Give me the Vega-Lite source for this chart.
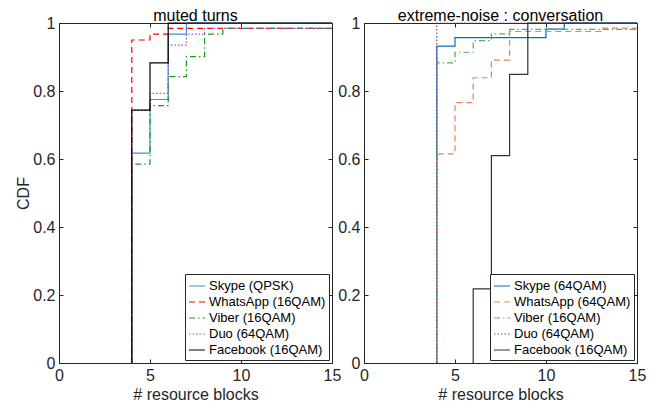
{
  "$schema": "https://vega.github.io/schema/vega-lite/v6.json",
  "padding": {"left": 15, "top": 8, "right": 0, "bottom": 0},
  "autosize": {"type": "pad"},
  "bounds": "flush",
  "spacing": 32,
  "background": "white",
  "datasets": {
    "left": [
      {"s": "Skype (QPSK)", "i": 0, "x": 4, "y": 0},
      {"s": "Skype (QPSK)", "i": 1, "x": 4, "y": 0.617},
      {"s": "Skype (QPSK)", "i": 2, "x": 5, "y": 0.775},
      {"s": "Skype (QPSK)", "i": 3, "x": 6, "y": 0.967},
      {"s": "Skype (QPSK)", "i": 4, "x": 7, "y": 1.0},
      {"s": "Skype (QPSK)", "i": 5, "x": 15, "y": 1.0},
      {"s": "WhatsApp (16QAM)", "i": 0, "x": 4, "y": 0},
      {"s": "WhatsApp (16QAM)", "i": 1, "x": 4, "y": 0.95},
      {"s": "WhatsApp (16QAM)", "i": 2, "x": 5, "y": 0.967},
      {"s": "WhatsApp (16QAM)", "i": 3, "x": 6, "y": 0.984},
      {"s": "WhatsApp (16QAM)", "i": 4, "x": 15, "y": 0.984},
      {"s": "Viber (16QAM)", "i": 0, "x": 4, "y": 0},
      {"s": "Viber (16QAM)", "i": 1, "x": 4, "y": 0.585},
      {"s": "Viber (16QAM)", "i": 2, "x": 5, "y": 0.757},
      {"s": "Viber (16QAM)", "i": 3, "x": 6, "y": 0.842},
      {"s": "Viber (16QAM)", "i": 4, "x": 7, "y": 0.901},
      {"s": "Viber (16QAM)", "i": 5, "x": 8, "y": 0.967},
      {"s": "Viber (16QAM)", "i": 6, "x": 9, "y": 0.984},
      {"s": "Viber (16QAM)", "i": 7, "x": 15, "y": 0.984},
      {"s": "Duo (64QAM)", "i": 0, "x": 4, "y": 0},
      {"s": "Duo (64QAM)", "i": 1, "x": 4, "y": 0.744},
      {"s": "Duo (64QAM)", "i": 2, "x": 5, "y": 0.793},
      {"s": "Duo (64QAM)", "i": 3, "x": 6, "y": 0.935},
      {"s": "Duo (64QAM)", "i": 4, "x": 7, "y": 0.967},
      {"s": "Duo (64QAM)", "i": 5, "x": 8, "y": 0.984},
      {"s": "Duo (64QAM)", "i": 6, "x": 15, "y": 0.984},
      {"s": "Facebook (16QAM)", "i": 0, "x": 4, "y": 0},
      {"s": "Facebook (16QAM)", "i": 1, "x": 4, "y": 0.744},
      {"s": "Facebook (16QAM)", "i": 2, "x": 5, "y": 0.883},
      {"s": "Facebook (16QAM)", "i": 3, "x": 6, "y": 1.0},
      {"s": "Facebook (16QAM)", "i": 4, "x": 15, "y": 1.0}
    ],
    "right": [
      {"s": "Skype (64QAM)", "i": 0, "x": 4, "y": 0},
      {"s": "Skype (64QAM)", "i": 1, "x": 4, "y": 0.932},
      {"s": "Skype (64QAM)", "i": 2, "x": 5, "y": 0.957},
      {"s": "Skype (64QAM)", "i": 3, "x": 10, "y": 0.982},
      {"s": "Skype (64QAM)", "i": 4, "x": 11, "y": 1.0},
      {"s": "Skype (64QAM)", "i": 5, "x": 15, "y": 1.0},
      {"s": "WhatsApp (64QAM)", "i": 0, "x": 4, "y": 0},
      {"s": "WhatsApp (64QAM)", "i": 1, "x": 4, "y": 0.615},
      {"s": "WhatsApp (64QAM)", "i": 2, "x": 5, "y": 0.766},
      {"s": "WhatsApp (64QAM)", "i": 3, "x": 6, "y": 0.839},
      {"s": "WhatsApp (64QAM)", "i": 4, "x": 7, "y": 0.891},
      {"s": "WhatsApp (64QAM)", "i": 5, "x": 8, "y": 0.975},
      {"s": "WhatsApp (64QAM)", "i": 6, "x": 13, "y": 0.985},
      {"s": "WhatsApp (64QAM)", "i": 7, "x": 15, "y": 0.985},
      {"s": "Viber (16QAM)", "i": 0, "x": 4, "y": 0},
      {"s": "Viber (16QAM)", "i": 1, "x": 4, "y": 0.883},
      {"s": "Viber (16QAM)", "i": 2, "x": 5, "y": 0.914},
      {"s": "Viber (16QAM)", "i": 3, "x": 6, "y": 0.948},
      {"s": "Viber (16QAM)", "i": 4, "x": 7, "y": 0.968},
      {"s": "Viber (16QAM)", "i": 5, "x": 8, "y": 0.981},
      {"s": "Viber (16QAM)", "i": 6, "x": 15, "y": 0.981},
      {"s": "Duo (64QAM)", "i": 0, "x": 4, "y": 0},
      {"s": "Duo (64QAM)", "i": 1, "x": 4, "y": 1.0},
      {"s": "Duo (64QAM)", "i": 2, "x": 15, "y": 1.0},
      {"s": "Facebook (16QAM)", "i": 0, "x": 6, "y": 0},
      {"s": "Facebook (16QAM)", "i": 1, "x": 6, "y": 0.218},
      {"s": "Facebook (16QAM)", "i": 2, "x": 7, "y": 0.61},
      {"s": "Facebook (16QAM)", "i": 3, "x": 8, "y": 0.849},
      {"s": "Facebook (16QAM)", "i": 4, "x": 9, "y": 1.0},
      {"s": "Facebook (16QAM)", "i": 5, "x": 15, "y": 1.0}
    ]
  },
  "hconcat": [
    {
      "width": 273,
      "height": 340,
      "title": {"text": "muted turns"},
      "data": {"name": "left"},
      "layer": [
        {
          "mark": {"type": "line", "interpolate": "step-after", "strokeWidth": 1.2},
          "encoding": {
            "x": {"field": "x", "type": "quantitative", "scale": {"domain": [0, 15], "nice": false}, "axis": {"values": [0, 5, 10, 15], "title": "# resource blocks"}},
            "y": {"field": "y", "type": "quantitative", "scale": {"domain": [0, 1], "nice": false}, "axis": {"values": [0, 0.2, 0.4, 0.6, 0.8, 1], "format": "~g", "title": "CDF", "titlePadding": 1}},
            "color": {"field": "s", "type": "nominal", "sort": null,
              "scale": {"domain": ["Skype (QPSK)", "WhatsApp (16QAM)", "Viber (16QAM)", "Duo (64QAM)", "Facebook (16QAM)"], "range": ["#3a93d8", "#ff0000", "#1a9a1a", "#a050c0", "#000000"]},
              "legend": {"title": null, "orient": "bottom-right", "offset": 3}},
            "strokeDash": {"field": "s", "type": "nominal", "sort": null,
              "scale": {"domain": ["Skype (QPSK)", "WhatsApp (16QAM)", "Viber (16QAM)", "Duo (64QAM)", "Facebook (16QAM)"], "range": [[1, 0], [6, 4], [6, 3, 1.5, 3], [1.5, 2], [1, 0]]},
              "legend": {"title": null, "orient": "bottom-right", "offset": 3}},
            "order": {"field": "i", "type": "quantitative"}
          }
        },
        {
          "mark": {"type": "line", "opacity": 0},
          "encoding": {
            "x": {"field": "x", "type": "quantitative", "axis": {"orient": "top", "values": [0, 5, 10, 15], "labels": false, "title": null}},
            "y": {"field": "y", "type": "quantitative", "axis": {"orient": "right", "values": [0, 0.2, 0.4, 0.6, 0.8, 1], "labels": false, "title": null}}
          }
        }
      ],
      "resolve": {"axis": {"x": "independent", "y": "independent"}}
    },
    {
      "width": 273,
      "height": 340,
      "title": {"text": "extreme-noise : conversation"},
      "data": {"name": "right"},
      "layer": [
        {
          "mark": {"type": "line", "interpolate": "step-after", "strokeWidth": 1.2},
          "encoding": {
            "x": {"field": "x", "type": "quantitative", "scale": {"domain": [0, 15], "nice": false}, "axis": {"values": [0, 5, 10, 15], "title": "# resource blocks"}},
            "y": {"field": "y", "type": "quantitative", "scale": {"domain": [0, 1], "nice": false}, "axis": {"values": [0, 0.2, 0.4, 0.6, 0.8, 1], "format": "~g", "title": null}},
            "color": {"field": "s", "type": "nominal", "sort": null,
              "scale": {"domain": ["Skype (64QAM)", "WhatsApp (64QAM)", "Viber (16QAM)", "Duo (64QAM)", "Facebook (16QAM)"], "range": ["#0072bd", "#e8814f", "#4cb34c", "#8a3a9a", "#333333"]},
              "legend": {"title": null, "orient": "bottom-right", "offset": 3}},
            "strokeDash": {"field": "s", "type": "nominal", "sort": null,
              "scale": {"domain": ["Skype (64QAM)", "WhatsApp (64QAM)", "Viber (16QAM)", "Duo (64QAM)", "Facebook (16QAM)"], "range": [[1, 0], [6, 4], [6, 3, 1.5, 3], [1.5, 2], [1, 0]]},
              "legend": {"title": null, "orient": "bottom-right", "offset": 3}},
            "order": {"field": "i", "type": "quantitative"}
          }
        },
        {
          "mark": {"type": "line", "opacity": 0},
          "encoding": {
            "x": {"field": "x", "type": "quantitative", "axis": {"orient": "top", "values": [0, 5, 10, 15], "labels": false, "title": null}},
            "y": {"field": "y", "type": "quantitative", "axis": {"orient": "right", "values": [0, 0.2, 0.4, 0.6, 0.8, 1], "labels": false, "title": null}}
          }
        }
      ],
      "resolve": {"axis": {"x": "independent", "y": "independent"}}
    }
  ],
  "resolve": {"scale": {"color": "independent", "strokeDash": "independent"}},
  "config": {
    "font": "Liberation Sans",
    "view": {"stroke": null},
    "title": {"fontSize": 16, "fontWeight": "normal", "color": "#000000", "offset": -9, "anchor": "middle", "font": "Liberation Sans"},
    "axis": {
      "grid": false,
      "domainColor": "#262626",
      "domainWidth": 1,
      "tickColor": "#262626",
      "tickSize": -4,
      "labelPadding": 8,
      "labelFlush": false,
      "labelOverlap": false,
      "labelColor": "#262626",
      "labelFont": "Liberation Sans",
      "labelFontSize": 16,
      "titleFont": "Liberation Sans",
      "titleFontSize": 16,
      "titleFontWeight": "normal",
      "titleColor": "#262626",
      "titlePadding": 3
    },
    "legend": {
      "fillColor": "white",
      "strokeColor": "#262626",
      "padding": 3,
      "rowPadding": 0,
      "labelFontSize": 13,
      "labelFont": "Liberation Sans",
      "labelColor": "#000000",
      "symbolType": "stroke",
      "symbolSize": 256,
      "symbolStrokeWidth": 1.2,
      "labelOffset": 3,
      "cornerRadius": 0
    }
  }
}
